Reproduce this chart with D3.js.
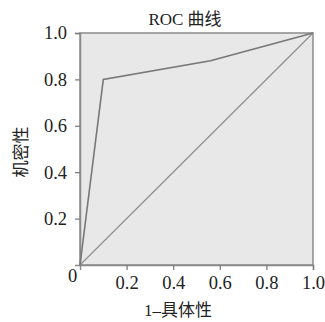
<!DOCTYPE html>
<meta charset="utf-8">
<head>
<style>
body { margin: 0; background: #fff; }
svg text { font-family: "Liberation Serif", "Noto Sans CJK SC", serif !important; fill: #222; }
</style>
<script src="https://d3js.org/d3.v7.min.js"></script>
</head>
<body>
<svg width="325" height="322"></svg>
<script>

// ROC points (1 - specificity, sensitivity)
var fpr = [0, 0.1, 0.56, 1.0];
var tpr = [0, 0.8, 0.88, 1.0];
var refLine = [[0, 0], [1, 1]];

var xTicks = [0.2, 0.4, 0.6, 0.8, 1.0];
var yTicks = [0.2, 0.4, 0.6, 0.8, 1.0];

var svg = d3.select("svg"),
    pLeft = 80, pRight = 313, pTop = 33, pBottom = 265;

var x = d3.scaleLinear().domain([0, 1]).range([pLeft, pRight]);
var y = d3.scaleLinear().domain([0, 1]).range([pBottom, pTop]);

// plot background + frame
svg.append("rect")
    .attr("x", pLeft).attr("y", pTop)
    .attr("width", pRight - pLeft).attr("height", pBottom - pTop)
    .attr("fill", "#e8e8e8")
    .attr("stroke", "#8a8a8a")
    .attr("stroke-width", 1.5);

// axes
var xAxis = svg.append("g")
    .attr("transform", "translate(0," + pBottom + ")")
    .call(d3.axisBottom(x).tickValues(xTicks).tickSize(5).tickPadding(6)
      .tickFormat(d3.format(".1f")));

var yAxis = svg.append("g")
    .attr("transform", "translate(" + pLeft + ",0)")
    .call(d3.axisLeft(y).tickValues(yTicks).tickSize(5).tickPadding(8)
      .tickFormat(d3.format(".1f")));

[xAxis, yAxis].forEach(function(a) {
  a.attr("font-family", null).attr("font-size", null);
  a.select(".domain").attr("stroke", "#8a8a8a").attr("stroke-width", 1.5);
  a.selectAll(".tick line").attr("stroke", "#777").attr("stroke-width", 1.2);
  a.selectAll(".tick text")
    .style("font-size", "18.5px").attr("fill", "#222");
});

// corner zero
svg.append("text")
    .attr("x", 72.5).attr("y", 282)
    .attr("text-anchor", "middle")
    .style("font-size", "18.5px")
    .text("0");

// diagonal
svg.append("path")
    .datum(refLine)
    .attr("fill", "none")
    .attr("stroke", "#8f8f8f")
    .attr("stroke-width", 1.2)
    .attr("d", d3.line().x(function(d) { return x(d[0]); }).y(function(d) { return y(d[1]); }));

// ROC curve
svg.append("path")
    .datum(d3.zip(fpr, tpr))
    .attr("fill", "none")
    .attr("stroke", "#777")
    .attr("stroke-width", 1.6)
    .attr("d", d3.line().x(function(d) { return x(d[0]); }).y(function(d) { return y(d[1]); }));

// titles
svg.append("text")
    .attr("x", 185).attr("y", 25)
    .attr("text-anchor", "middle")
    .style("font-size", "17px")
    .text("ROC 曲线");

svg.append("text")
    .attr("x", 178).attr("y", 316)
    .attr("text-anchor", "middle")
    .style("font-size", "17px")
    .text("1–具体性");

svg.append("text")
    .attr("transform", "translate(27,152) rotate(-90)")
    .attr("text-anchor", "middle")
    .style("font-size", "17px")
    .text("机密性");

</script>
</body>
